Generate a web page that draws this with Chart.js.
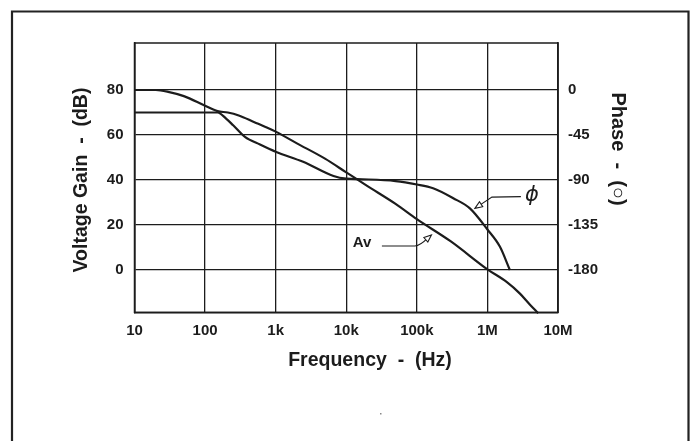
<!DOCTYPE html>
<html><head><meta charset="utf-8">
<script src="https://cdn.jsdelivr.net/npm/chart.js@4.4.1/dist/chart.umd.min.js"></script>
<style>html,body{margin:0;padding:0;background:#fff}</style>
</head><body>
<canvas id="c" width="696" height="441" style="display:block"></canvas>
<script>
// ---- data ----
const gainFreq = [10, 20, 30, 50, 100, 150, 210, 300, 500, 705, 1000, 2000, 5000, 10000, 20000, 50000, 100000, 300000, 1000000, 1870000, 2890000, 3980000, 5240000];
const gainDb   = [80, 80, 79.2, 77.3, 73.0, 70.6, 70.0, 68.7, 65.7, 63.7, 61.5, 56.3, 49.5, 43.4, 37.3, 29.4, 22.6, 12.8, 0.3, -5.3, -10.5, -15.3, -19.2];
const phaseFreq = [10, 100, 150, 200, 250, 367, 600, 1000, 2450, 6600, 10000, 17000, 50000, 100000, 170000, 328000, 565000, 1000000, 1500000, 2080000];
const phaseDeg  = [-22.5, -22.5, -22.5, -28.8, -35.3, -46.8, -54.5, -61.7, -71.8, -86.0, -88.7, -89.3, -91.1, -94.5, -98.3, -108.2, -118.4, -139.5, -156.6, -180];
const freqTicks = [10, 100, 1e3, 1e4, 1e5, 1e6, 1e7];
const freqTickLabels = ['10', '100', '1k', '10k', '100k', '1M', '10M'];
const gainTicks = [0, 20, 40, 60, 80];
const phaseTicks = [0, -45, -90, -135, -180];
const gainRange = [-18.8, 100.9];
const phaseRange = [-222.3, 47.0];
// annotation anchors (frequency, gain dB)
const avLabel = {text: 'Av', f: 12400, g: 12.0};
const avArrow = [[32000, 10.7], [94000, 10.7], [161000, 15.6]];
const phLabel = {text: 'ϕ', f: 4270000, g: 33.3};
const phArrow = [[2980000, 32.6], [1158000, 32.4], [665000, 27.4]];

const INK = '#1c1c1c';
const tickFont = {family: "'Liberation Sans', Arial, Helvetica, sans-serif", size: 15, weight: 'bold'};

function arrowHead(ctx, x0, y0, x1, y1) {
  const a = Math.atan2(y1 - y0, x1 - x0), L = 8, w = 0.38;
  ctx.save();
  ctx.beginPath();
  ctx.moveTo(x1, y1);
  ctx.lineTo(x1 - L * Math.cos(a - w), y1 - L * Math.sin(a - w));
  ctx.lineTo(x1 - L * Math.cos(a + w), y1 - L * Math.sin(a + w));
  ctx.closePath();
  ctx.fillStyle = '#fff';
  ctx.fill();
  ctx.stroke();
  ctx.restore();
}

const decor = {
  id: 'decor',
  afterDraw(chart) {
    const ctx = chart.ctx, ca = chart.chartArea;
    const xs = chart.scales.x, ys = chart.scales.y;
    ctx.save();
    // outer frame
    ctx.strokeStyle = '#222';
    ctx.lineWidth = 2.2;
    ctx.beginPath();
    ctx.moveTo(12, 460); ctx.lineTo(12, 11.5); ctx.lineTo(688.5, 11.5); ctx.lineTo(688.5, 460);
    ctx.stroke();
    // plot frame
    ctx.lineWidth = 1.5;
    ctx.strokeStyle = INK;
    ctx.strokeRect(ca.left, ca.top, ca.right - ca.left, ca.bottom - ca.top);
    // titles
    ctx.fillStyle = INK;
    ctx.font = "bold 19.5px 'Liberation Sans', Arial, sans-serif";
    ctx.textAlign = 'center';
    ctx.textBaseline = 'middle';
    ctx.fillText('Frequency  -  (Hz)', 370, 361);
    ctx.save();
    ctx.translate(82, 180);
    ctx.rotate(-Math.PI / 2);
    ctx.fillText('Voltage Gain  -  (dB)', 0, 0);
    ctx.restore();
    ctx.save();
    ctx.translate(618, 149);
    ctx.rotate(Math.PI / 2);
    ctx.font = "bold 20px 'Liberation Sans', Arial, sans-serif";
    ctx.fillText('Phase  -  (○)', 0, 0);
    ctx.restore();
    // annotations
    const P = (f, g) => [xs.getPixelForValue(f), ys.getPixelForValue(g)];
    ctx.font = "bold 15px 'Liberation Sans', Arial, sans-serif";
    ctx.textAlign = 'left';
    const al = P(avLabel.f, avLabel.g);
    ctx.fillText(avLabel.text, al[0], al[1]);
    ctx.lineWidth = 1.1;
    ctx.strokeStyle = INK;
    let pts = avArrow.map(p => P(p[0], p[1]));
    ctx.beginPath();
    ctx.moveTo(pts[0][0], pts[0][1]);
    ctx.lineTo(pts[1][0], pts[1][1]);
    ctx.quadraticCurveTo(pts[1][0] + 5, pts[1][1], pts[2][0] - 3, pts[2][1] + 2.5);
    ctx.stroke();
    arrowHead(ctx, pts[1][0] + 4, pts[1][1], pts[2][0], pts[2][1]);
    pts = phArrow.map(p => P(p[0], p[1]));
    ctx.beginPath();
    ctx.moveTo(pts[0][0], pts[0][1]);
    ctx.lineTo(pts[1][0], pts[1][1]);
    ctx.lineTo(pts[2][0] + 3, pts[2][1] - 2);
    ctx.stroke();
    arrowHead(ctx, pts[1][0], pts[1][1], pts[2][0], pts[2][1]);
    ctx.fillStyle = INK;
    ctx.font = "italic 21px 'DejaVu Sans', 'Noto Sans', sans-serif";
    ctx.textAlign = 'center';
    const pl = P(phLabel.f, phLabel.g);
    ctx.fillText(phLabel.text, pl[0], pl[1]);
    // scan speck
    ctx.fillStyle = '#888';
    ctx.fillRect(380, 413, 1.5, 1.5);
    ctx.restore();
  }
};

new Chart(document.getElementById('c'), {
  type: 'line',
  data: {
    datasets: [
      {label: 'Av', data: gainFreq.map((f, i) => ({x: f, y: gainDb[i]})), yAxisID: 'y',
       borderColor: INK, borderWidth: 2.2, pointRadius: 0, cubicInterpolationMode: 'monotone', fill: false, clip: 2},
      {label: 'Phase', data: phaseFreq.map((f, i) => ({x: f, y: phaseDeg[i]})), yAxisID: 'y2',
       borderColor: INK, borderWidth: 2.2, pointRadius: 0, cubicInterpolationMode: 'monotone', fill: false}
    ]
  },
  options: {
    responsive: false,
    animation: false,
    devicePixelRatio: 1,
    layout: {padding: {top: 43, left: 0, right: 0, bottom: 0}},
    plugins: {legend: {display: false}, tooltip: {enabled: false}},
    scales: {
      x: {
        type: 'logarithmic', min: 10, max: 1e7,
        afterBuildTicks: s => { s.ticks = freqTicks.map(v => ({value: v})); },
        afterFit: s => { s.height = 441 - 312.3; },
        ticks: {callback: v => freqTickLabels[freqTicks.indexOf(v)], autoSkip: false, maxRotation: 0,
                font: tickFont, color: INK, padding: 10},
        grid: {color: INK, lineWidth: 1.3, drawTicks: false},
        border: {display: true, color: INK, width: 1.5}
      },
      y: {
        position: 'left', min: gainRange[0], max: gainRange[1],
        afterBuildTicks: s => { s.ticks = gainTicks.map(v => ({value: v})); },
        afterFit: s => { s.width = 134.5; },
        ticks: {font: tickFont, color: INK, padding: 11},
        grid: {color: INK, lineWidth: 1.3, drawTicks: false},
        border: {display: true, color: INK, width: 1.5}
      },
      y2: {
        position: 'right', min: phaseRange[0], max: phaseRange[1],
        afterBuildTicks: s => { s.ticks = phaseTicks.map(v => ({value: v})); },
        afterFit: s => { s.width = 696 - 558; },
        ticks: {font: tickFont, color: INK, padding: 10},
        grid: {display: false, drawTicks: false},
        border: {display: true, color: INK, width: 1.5}
      }
    }
  },
  plugins: [decor]
});
</script>
</body></html>
